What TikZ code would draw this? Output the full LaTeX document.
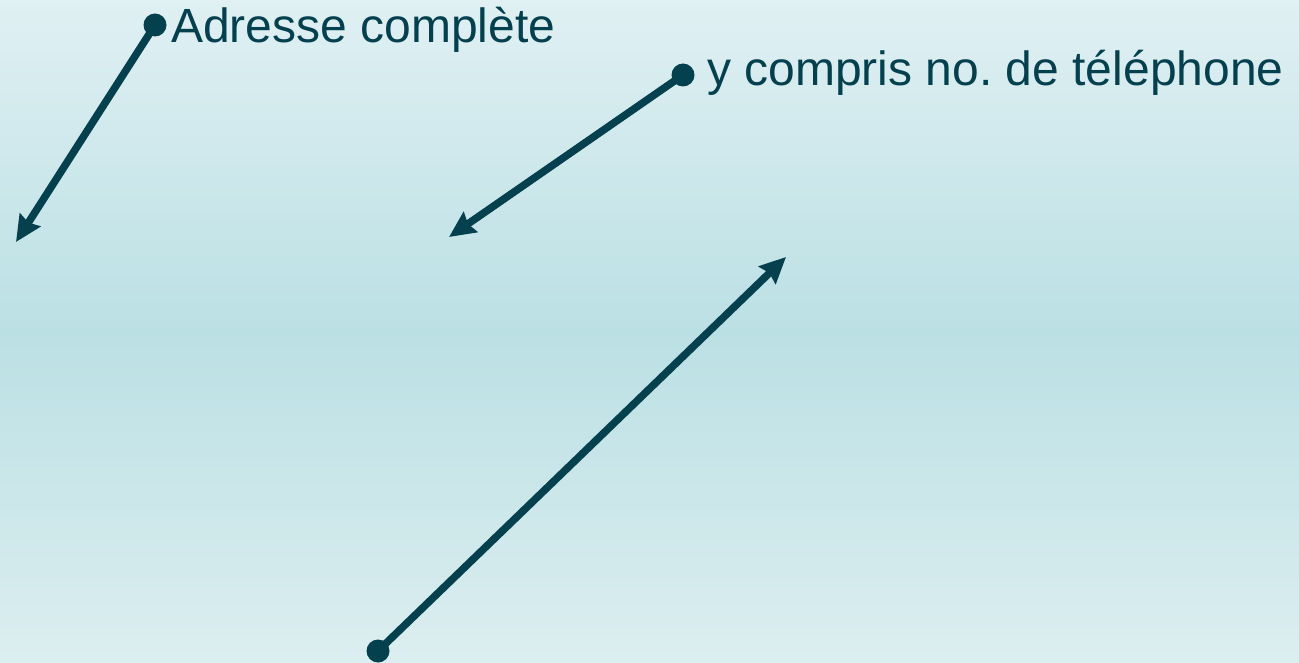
\documentclass[tikz,border=0pt]{standalone}
\usepackage{fontspec}
\setmainfont{Liberation Sans}
\usetikzlibrary{arrows.meta}
\definecolor{ink}{HTML}{05404F}
\definecolor{bgtop}{HTML}{E0F0F3}
\definecolor{bgmid}{HTML}{BBE0E4}
\definecolor{bgbot}{HTML}{DCEEF0}

\tikzstyle{dot} = [circle, minimum width=23pt, fill=ink, inner sep=0pt]
\tikzstyle{txt} = [anchor=base west, inner sep=0pt, text=ink, font=\fontsize{48}{58}\selectfont]
\tikzstyle{pointer} = [ink, line width=7.5pt, -{Stealth[length=26pt,width=24pt,inset=3pt]}]

\begin{document}
\frenchspacing
\begin{tikzpicture}[x=1pt,y=-1pt]
\shade[top color=bgtop, bottom color=bgbot, middle color=bgmid] (0,0) rectangle (1299,663);
\useasboundingbox (0,0) rectangle (1299,663);
% bullets and their texts
\node [dot] (adrdot) at (155,25) {};
\node [txt] (adr) at (171,43) {Adresse complète};
\node [dot] (teldot) at (683,75) {};
\node [txt] (tel) at (707,86) {y compris no. de téléphone};
\node [dot] (basdot) at (378,651) {};
% free ends of the pointers
\coordinate (adrtip) at (16,242);
\coordinate (teltip) at (449,237);
\coordinate (bastip) at (786,257);
\draw [pointer] (adrdot.center) -- (adrtip);
\draw [pointer] (teldot.center) -- (teltip);
\draw [pointer] (basdot.center) -- (bastip);
\end{tikzpicture}
\end{document}
